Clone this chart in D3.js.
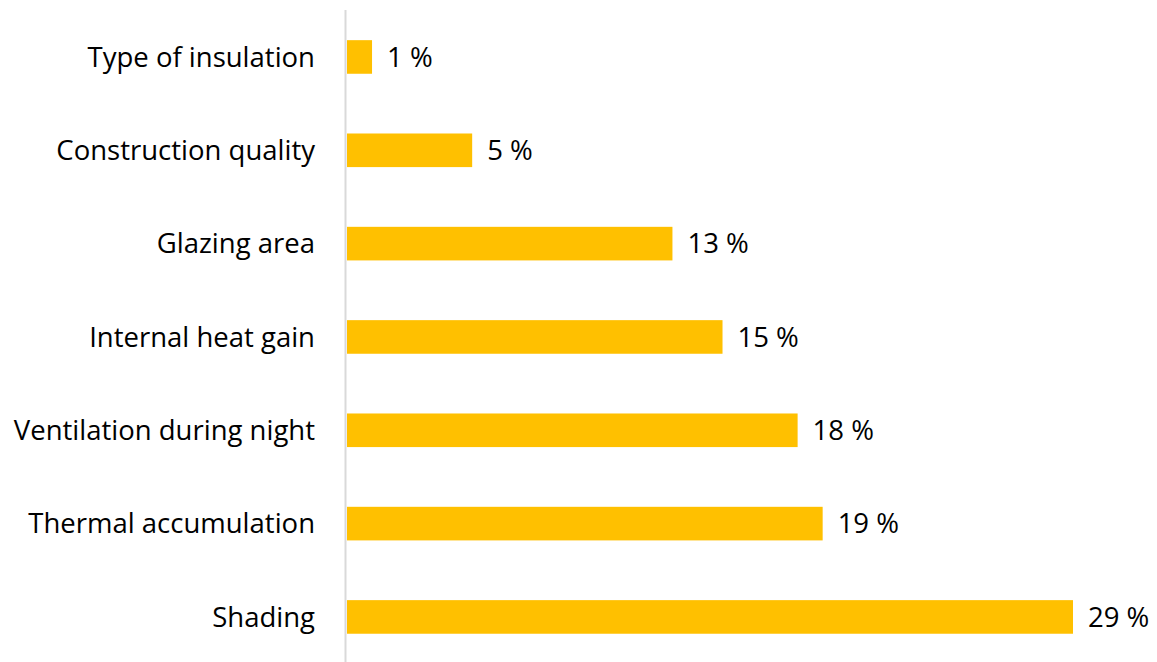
<!DOCTYPE html>
<html>
<head>
<meta charset="utf-8">
<script src="https://cdn.jsdelivr.net/npm/d3@7"></script>
<style>
  body { margin: 0; background: #fff; }
  svg { display: block; font-family: "Open Sans", Lato, sans-serif; }
</style>
</head>
<body>
<div id="chart"></div>
<script>
const categories = [
  "Type of insulation",
  "Construction quality",
  "Glazing area",
  "Internal heat gain",
  "Ventilation during night",
  "Thermal accumulation",
  "Shading"
];
const values = [1, 5, 13, 15, 18, 19, 29];

const width = 1157, height = 662;
const margin = {top: 10, right: 0, bottom: 0, left: 347};

const svg = d3.select('#chart').append('svg')
  .attr('width', width)
  .attr('height', height);

const x = d3.scaleLinear().domain([0, 29]).range([margin.left, 1073]);
const y = d3.scaleBand().domain(categories)
  .range([10.3, 663.6])
  .paddingInner(0.64)
  .paddingOuter(0.32);

// bars
svg.append('g').selectAll('rect')
  .data(values)
  .enter()
    .append('rect')
    .attr('x', x(0))
    .attr('y', (d, i) => y(categories[i]))
    .attr('width', d => x(d) - x(0))
    .attr('height', y.bandwidth())
    .attr('fill', '#FFC000');

// axis line
svg.append('line')
  .attr('x1', 345.5).attr('x2', 345.5)
  .attr('y1', margin.top).attr('y2', height)
  .attr('stroke', '#d9d9d9')
  .attr('stroke-width', 2);

// category labels
svg.append('g').selectAll('text')
  .data(categories)
  .enter()
    .append('text')
    .attr('x', 315)
    .attr('y', d => y(d) + y.bandwidth() / 2)
    .attr('dy', '0.35em')
    .attr('text-anchor', 'end')
    .attr('font-size', 27.5)
    .attr('fill', '#000')
    .text(d => d);

// value labels
svg.append('g').selectAll('text')
  .data(values)
  .enter()
    .append('text')
    .attr('x', d => x(d) + 15)
    .attr('y', (d, i) => y(categories[i]) + y.bandwidth() / 2)
    .attr('dy', '0.35em')
    .attr('font-size', 27.5)
    .attr('fill', '#000')
    .text(d => d + ' %');
</script>
</body>
</html>
